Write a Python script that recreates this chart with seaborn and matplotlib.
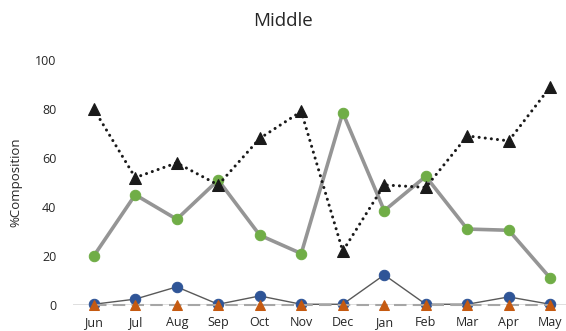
import matplotlib
matplotlib.use("Agg")
import matplotlib.pyplot as plt
import seaborn as sns
import pandas as pd

months = ["Jun", "Jul", "Aug", "Sep", "Oct", "Nov", "Dec", "Jan", "Feb", "Mar", "Apr", "May"]
black_series = [80, 52, 58, 49, 68, 79, 22, 49, 48, 69, 67, 89]
green_series = [20, 45, 35, 51, 28.5, 21, 78.5, 38.5, 52.5, 31, 30.5, 11]
blue_series = [0.3, 2.4, 7.4, 0.3, 3.7, 0.3, 0.3, 12.3, 0.3, 0.3, 3.3, 0.3]
orange_series = [0, 0, 0, 0, 0, 0, 0, 0, 0, 0, 0, 0]
y_ticks = [0, 20, 40, 60, 80, 100]

sns.set_theme(style="white")
plt.rcParams["font.family"] = ["Open Sans", "DejaVu Sans"]

fig = plt.figure(figsize=(5.66, 3.31), dpi=100)
ax = fig.add_axes([73 / 566, 26 / 331, 498 / 566, 245 / 331])

# baseline at zero
ax.axhline(0, color="#D9D9D9", lw=1.2, zorder=1)

df = pd.DataFrame({"month": months, "black": black_series, "green": green_series,
                   "blue": blue_series, "orange": orange_series})

sns.lineplot(data=df, x="month", y="blue", sort=False, ax=ax, color="#595959",
             lw=1.0, marker="o", markersize=7.5, markerfacecolor="#2F5597",
             markeredgecolor="#2F5597", clip_on=False, zorder=3)
sns.lineplot(data=df, x="month", y="orange", sort=False, ax=ax, color="#A6A6A6",
             lw=1.5, linestyle=(0, (6, 3)), marker="^", markersize=7,
             markerfacecolor="#C55A11", markeredgecolor="#C55A11", clip_on=False, zorder=4)
sns.lineplot(data=df, x="month", y="green", sort=False, ax=ax, color="#959595",
             lw=2.6, marker="o", markersize=7.5, markerfacecolor="#70AD47",
             markeredgecolor="#70AD47", clip_on=False, zorder=5)
sns.lineplot(data=df, x="month", y="black", sort=False, ax=ax, color="#1A1A1A",
             lw=2.2, linestyle=(0, (0.01, 2.0)), dash_capstyle="round", marker="^",
             markersize=8, markerfacecolor="#1A1A1A", markeredgecolor="#1A1A1A",
             clip_on=False, zorder=6)

ax.set_xlim(-0.5, len(months) - 0.5)
ax.set_ylim(0, 100)
ax.set_yticks(y_ticks)
ax.set_yticklabels([str(v) for v in y_ticks])
for s in ax.spines.values():
    s.set_visible(False)
ax.tick_params(axis="both", length=0, labelsize=9, colors="#262626")
ax.tick_params(axis="x", pad=8)
ax.tick_params(axis="y", pad=12)
ax.set_xlabel("")
ax.set_ylabel("%Composition", fontsize=9.5, color="#262626", labelpad=9)
ax.grid(False)

fig.text(283 / 566, 1 - 21 / 331, "Middle", ha="center", va="center",
         fontsize=13.5, color="#262626")

fig.savefig("out.png", dpi=100)
